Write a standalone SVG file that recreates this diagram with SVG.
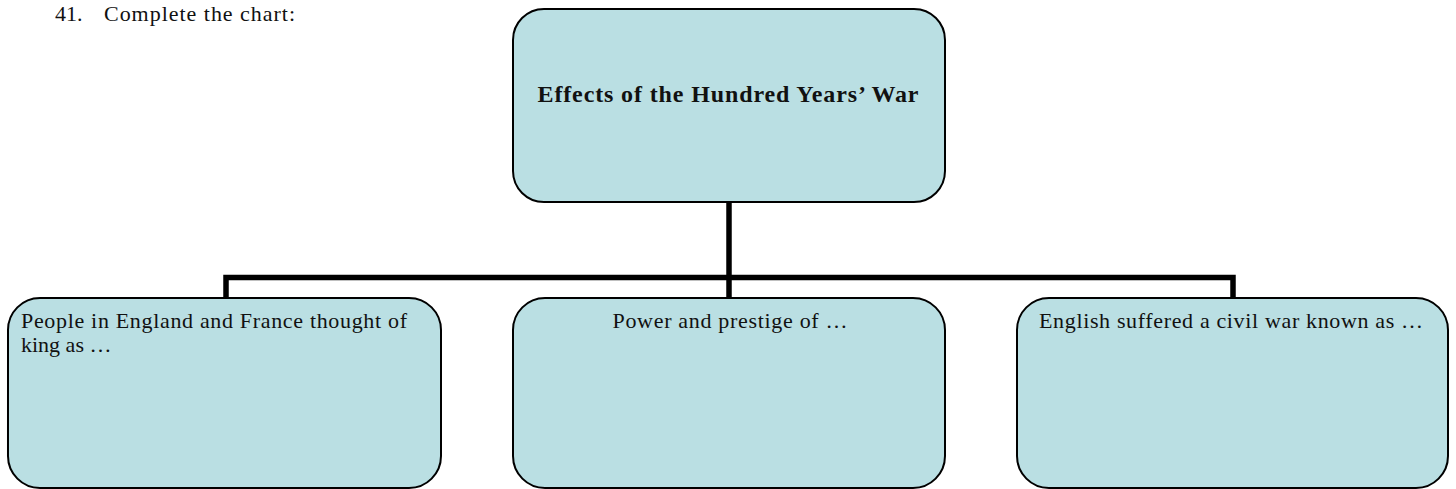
<svg xmlns="http://www.w3.org/2000/svg" width="1456" height="489" viewBox="0 0 1456 489">
<style>
.box{fill:#BADFE3;stroke:#000;stroke-width:2}
.t{font-family:"Liberation Serif","Times New Roman",serif;font-size:22px;fill:#111}
.b{font-weight:bold;font-size:24px}
.c{text-anchor:middle}
.conn{fill:none;stroke:#000;stroke-width:5.5;stroke-linejoin:miter}
</style>
<rect width="1456" height="489" fill="#fff"/>
<text class="t" x="55" y="21">41.</text>
<text class="t" x="104" y="21" textLength="191" lengthAdjust="spacing">Complete the chart:</text>
<g id="connectors">
<path class="conn" d="M729,201 V298"/>
<path class="conn" d="M226,298 V277.5 H1233 V298"/>
</g>
<g id="top">
<rect class="box" x="513" y="9" width="432" height="193" rx="31" ry="31"/>
<text class="t b c" x="728" y="102" textLength="381" lengthAdjust="spacing">Effects of the Hundred Years’ War</text>
</g>
<g id="left">
<rect class="box" x="8" y="298" width="433" height="190" rx="32" ry="32"/>
<text class="t" x="21" y="328" textLength="386" lengthAdjust="spacing">People in England and France thought of</text>
<text class="t" x="21" y="352">king as …</text>
</g>
<g id="middle">
<rect class="box" x="513" y="298" width="432" height="190" rx="32" ry="32"/>
<text class="t c" x="730" y="328" textLength="235" lengthAdjust="spacing">Power and prestige of …</text>
</g>
<g id="right">
<rect class="box" x="1017" y="298" width="431" height="190" rx="32" ry="32"/>
<text class="t c" x="1231" y="328" textLength="384" lengthAdjust="spacing">English suffered a civil war known as …</text>
</g>
</svg>
